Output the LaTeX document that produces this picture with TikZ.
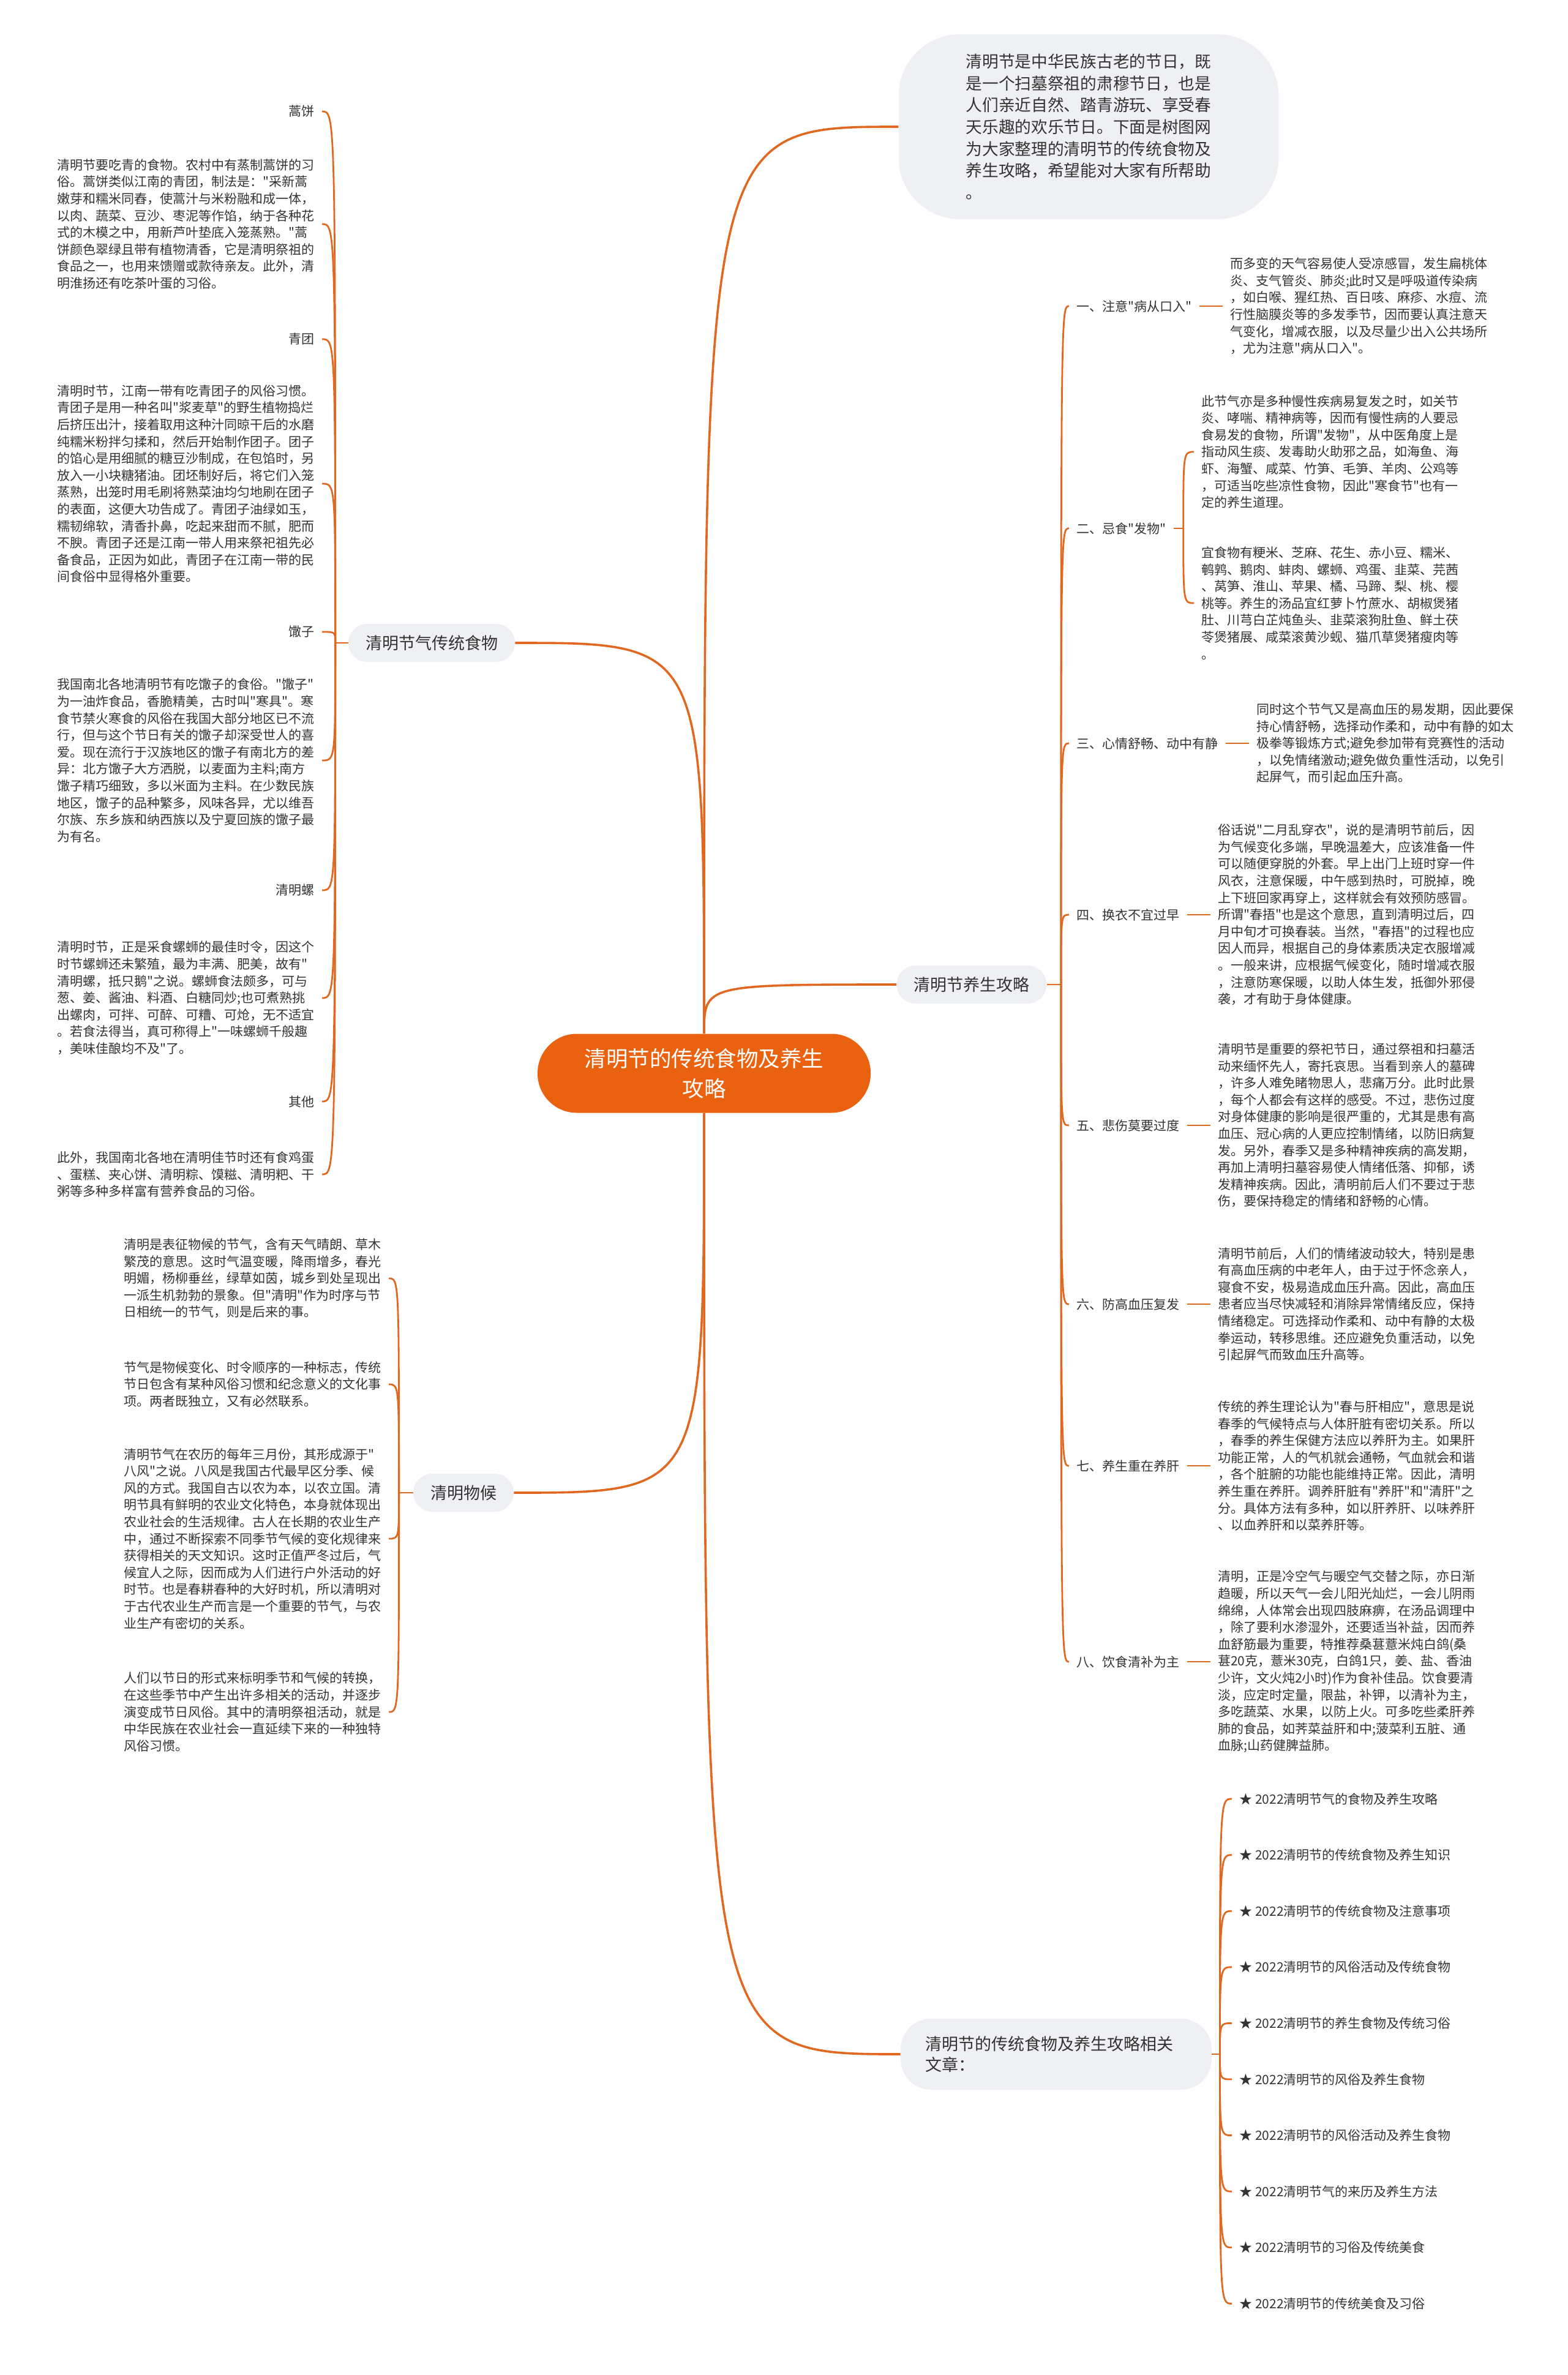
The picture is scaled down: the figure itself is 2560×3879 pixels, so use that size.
\documentclass[tikz,border=0pt]{standalone}
\usepackage{fontspec}
\newfontfamily\cjkfont{Noto Sans CJK SC}
\usetikzlibrary{positioning}
\definecolor{lineor}{RGB}{224,104,32}
\definecolor{hubor}{RGB}{234,98,16}
\definecolor{pillgray}{RGB}{238,240,243}
\definecolor{txt}{RGB}{51,51,51}
\tikzset{
  hub/.style   = {rounded corners=32pt, fill=hubor, text=white, align=center,
                  minimum width=272pt, minimum height=64.5pt,
                  font=\cjkfont\fontsize{17.75}{24.5}\selectfont},
  topic/.style = {rounded corners=15.5pt, fill=pillgray, text=txt,
                  minimum height=31pt, inner xsep=14pt,
                  font=\cjkfont\fontsize{13.5}{17}\selectfont},
  intro/.style = {topic, rounded corners=50pt, align=left,
                  inner xsep=55pt, inner ysep=16pt,
                  font=\cjkfont\fontsize{13.35}{17.8}\selectfont},
  lbl/.style   = {text=txt, inner xsep=6pt, inner ysep=2pt,
                  font=\cjkfont\fontsize{10.5}{13.8}\selectfont},
  para/.style  = {lbl, align=left},
  link/.style  = {draw=lineor, line width=1.4pt},
  main/.style  = {link, line width=1.8pt}
}

\begin{document}
\begin{tikzpicture}[x=0.5pt,y=-0.5pt,node distance=19pt]
  \useasboundingbox[fill=white] (0,0) rectangle (2560,3879);

  % centre and main topics
  \node[hub] (hub) at (1150,1753) {清明节的传统食物及养生\\攻略};
  \node[intro] (intro) at (1778,207) {清明节是中华民族古老的节日，既\\是一个扫墓祭祖的肃穆节日，也是\\人们亲近自然、踏青游玩、享受春\\天乐趣的欢乐节日。下面是树图网\\为大家整理的清明节的传统食物及\\养生攻略，希望能对大家有所帮助\\。};
  \node[topic] (hy) at (1587,1608) {清明节养生攻略};
  \node[topic] (fd) at (705,1050) {清明节气传统食物};
  \node[topic] (wh) at (757,2438) {清明物候};
  \node[topic, align=left, text width=214pt, inner xsep=20pt,
        rounded corners=25pt, minimum height=58pt] (rel) at (1725,3355)
        {清明节的传统食物及养生攻略相关\\文章：};

  \draw[main] (hub.north) .. controls (hub.north |- intro.west) .. (intro.west);
  \draw[main] (hub.north) .. controls (hub.north |- hy.west) .. (hy.west);
  \draw[main] (hub.north) .. controls (hub.north |- fd.east) .. (fd.east);
  \draw[main] (hub.south) .. controls (hub.south |- wh.east) .. (wh.east);
  \draw[main] (hub.south) .. controls (hub.south |- rel.west) .. (rel.west);

  % health tips
  \node[lbl, anchor=west] (l1) at (1746,500) {一、注意"病从口入"};
  \node[para, right=of l1] (p1) {而多变的天气容易使人受凉感冒，发生扁桃体\\炎、支气管炎、肺炎;此时又是呼吸道传染病\\，如白喉、猩红热、百日咳、麻疹、水痘、流\\行性脑膜炎等的多发季节，因而要认真注意天\\气变化，增减衣服，以及尽量少出入公共场所\\，尤为注意"病从口入"。};

  \node[lbl, anchor=west] (l2) at (1746,863) {二、忌食"发物"};
  \coordinate[right=8pt of l2] (j2);
  \node[para, anchor=west] (p2a) at (1950,738) {此节气亦是多种慢性疾病易复发之时，如关节\\炎、哮喘、精神病等，因而有慢性病的人要忌\\食易发的食物，所谓"发物"，从中医角度上是\\指动风生痰、发毒助火助邪之品，如海鱼、海\\虾、海蟹、咸菜、竹笋、毛笋、羊肉、公鸡等\\，可适当吃些凉性食物，因此"寒食节"也有一\\定的养生道理。};
  \node[para, anchor=west] (p2b) at (1950,985) {宜食物有粳米、芝麻、花生、赤小豆、糯米、\\鹌鹑、鹅肉、蚌肉、螺蛳、鸡蛋、韭菜、芫茜\\、莴笋、淮山、苹果、橘、马蹄、梨、桃、樱\\桃等。养生的汤品宜红萝卜竹蔗水、胡椒煲猪\\肚、川芎白芷炖鱼头、韭菜滚狗肚鱼、鲜土茯\\苓煲猪展、咸菜滚黄沙蚬、猫爪草煲猪瘦肉等\\。};

  \node[lbl, anchor=west] (l3) at (1746,1214) {三、心情舒畅、动中有静};
  \node[para, right=of l3] (p3) {同时这个节气又是高血压的易发期，因此要保\\持心情舒畅，选择动作柔和，动中有静的如太\\极拳等锻炼方式;避免参加带有竞赛性的活动\\，以免情绪激动;避免做负重性活动，以免引\\起屏气，而引起血压升高。};

  \node[lbl, anchor=west] (l4) at (1746,1494) {四、换衣不宜过早};
  \node[para, right=of l4] (p4) {俗话说"二月乱穿衣"，说的是清明节前后，因\\为气候变化多端，早晚温差大，应该准备一件\\可以随便穿脱的外套。早上出门上班时穿一件\\风衣，注意保暖，中午感到热时，可脱掉，晚\\上下班回家再穿上，这样就会有效预防感冒。\\所谓"春捂"也是这个意思，直到清明过后，四\\月中旬才可换春装。当然，"春捂"的过程也应\\因人而异，根据自己的身体素质决定衣服增减\\。一般来讲，应根据气候变化，随时增减衣服\\，注意防寒保暖，以助人体生发，抵御外邪侵\\袭，才有助于身体健康。};

  \node[lbl, anchor=west] (l5) at (1746,1838) {五、悲伤莫要过度};
  \node[para, right=of l5] (p5) {清明节是重要的祭祀节日，通过祭祖和扫墓活\\动来缅怀先人，寄托哀思。当看到亲人的墓碑\\，许多人难免睹物思人，悲痛万分。此时此景\\，每个人都会有这样的感受。不过，悲伤过度\\对身体健康的影响是很严重的，尤其是患有高\\血压、冠心病的人更应控制情绪，以防旧病复\\发。另外，春季又是多种精神疾病的高发期，\\再加上清明扫墓容易使人情绪低落、抑郁，诱\\发精神疾病。因此，清明前后人们不要过于悲\\伤，要保持稳定的情绪和舒畅的心情。};

  \node[lbl, anchor=west] (l6) at (1746,2130) {六、防高血压复发};
  \node[para, right=of l6] (p6) {清明节前后，人们的情绪波动较大，特别是患\\有高血压病的中老年人，由于过于怀念亲人，\\寝食不安，极易造成血压升高。因此，高血压\\患者应当尽快减轻和消除异常情绪反应，保持\\情绪稳定。可选择动作柔和、动中有静的太极\\拳运动，转移思维。还应避免负重活动，以免\\引起屏气而致血压升高等。};

  \node[lbl, anchor=west] (l7) at (1746,2394) {七、养生重在养肝};
  \node[para, right=of l7] (p7) {传统的养生理论认为"春与肝相应"，意思是说\\春季的气候特点与人体肝脏有密切关系。所以\\，春季的养生保健方法应以养肝为主。如果肝\\功能正常，人的气机就会通畅，气血就会和谐\\，各个脏腑的功能也能维持正常。因此，清明\\养生重在养肝。调养肝脏有"养肝"和"清肝"之\\分。具体方法有多种，如以肝养肝、以味养肝\\、以血养肝和以菜养肝等。};

  \node[lbl, anchor=west] (l8) at (1746,2714) {八、饮食清补为主};
  \node[para, right=of l8] (p8) {清明，正是冷空气与暖空气交替之际，亦日渐\\趋暖，所以天气一会儿阳光灿烂，一会儿阴雨\\绵绵，人体常会出现四肢麻痹，在汤品调理中\\，除了要利水渗湿外，还要适当补益，因而养\\血舒筋最为重要，特推荐桑葚薏米炖白鸽(桑\\葚20克，薏米30克，白鸽1只，姜、盐、香油\\少许，文火炖2小时)作为食补佳品。饮食要清\\淡，应定时定量，限盐，补钾，以清补为主，\\多吃蔬菜、水果，以防上火。可多吃些柔肝养\\肺的食品，如荠菜益肝和中;菠菜利五脏、通\\血脉;山药健脾益肺。};

  \coordinate (jy) at ([xshift=11.5pt]hy.east);
  \draw[link] (hy.east) -- (jy);
  \foreach \nm in {l1,l2,l3,l4,l5,l6,l7,l8}
    \draw[link] (jy) .. controls (jy |- \nm) .. (\nm.west);
  \foreach \nm in {1,3,4,5,6,7,8}
    \draw[link] (l\nm) -- (p\nm);
  \draw[link] (l2.east) -- (j2);
  \draw[link] (j2) .. controls (j2 |- p2a) .. (p2a.west);
  \draw[link] (j2) .. controls (j2 |- p2b) .. (p2b.west);

  % traditional food
  \node[lbl, anchor=east] (f1) at (526,182) {蒿饼};
  \node[para, anchor=east] (f2) at (526,366) {清明节要吃青的食物。农村中有蒸制蒿饼的习\\俗。蒿饼类似江南的青团，制法是："采新蒿\\嫩芽和糯米同舂，使蒿汁与米粉融和成一体，\\以肉、蔬菜、豆沙、枣泥等作馅，纳于各种花\\式的木模之中，用新芦叶垫底入笼蒸熟。"蒿\\饼颜色翠绿且带有植物清香，它是清明祭祖的\\食品之一，也用来馈赠或款待亲友。此外，清\\明淮扬还有吃茶叶蛋的习俗。};
  \node[lbl, anchor=east] (f3) at (526,554) {青团};
  \node[para, anchor=east] (f4) at (526,790) {清明时节，江南一带有吃青团子的风俗习惯。\\青团子是用一种名叫"浆麦草"的野生植物捣烂\\后挤压出汁，接着取用这种汁同晾干后的水磨\\纯糯米粉拌匀揉和，然后开始制作团子。团子\\的馅心是用细腻的糖豆沙制成，在包馅时，另\\放入一小块糖猪油。团坯制好后，将它们入笼\\蒸熟，出笼时用毛刷将熟菜油均匀地刷在团子\\的表面，这便大功告成了。青团子油绿如玉，\\糯韧绵软，清香扑鼻，吃起来甜而不腻，肥而\\不腴。青团子还是江南一带人用来祭祀祖先必\\备食品，正因为如此，青团子在江南一带的民\\间食俗中显得格外重要。};
  \node[lbl, anchor=east] (f5) at (526,1032) {馓子};
  \node[para, anchor=east] (f6) at (526,1242) {我国南北各地清明节有吃馓子的食俗。"馓子"\\为一油炸食品，香脆精美，古时叫"寒具"。寒\\食节禁火寒食的风俗在我国大部分地区已不流\\行，但与这个节日有关的馓子却深受世人的喜\\爱。现在流行于汉族地区的馓子有南北方的差\\异：北方馓子大方洒脱，以麦面为主料;南方\\馓子精巧细致，多以米面为主料。在少数民族\\地区，馓子的品种繁多，风味各异，尤以维吾\\尔族、东乡族和纳西族以及宁夏回族的馓子最\\为有名。};
  \node[lbl, anchor=east] (f7) at (526,1454) {清明螺};
  \node[para, anchor=east] (f8) at (526,1630) {清明时节，正是采食螺蛳的最佳时令，因这个\\时节螺蛳还未繁殖，最为丰满、肥美，故有"\\清明螺，抵只鹅"之说。螺蛳食法颇多，可与\\葱、姜、酱油、料酒、白糖同炒;也可煮熟挑\\出螺肉，可拌、可醉、可糟、可炝，无不适宜\\。若食法得当，真可称得上"一味螺蛳千般趣\\，美味佳酿均不及"了。};
  \node[lbl, anchor=east] (f9) at (526,1799) {其他};
  \node[para, anchor=east] (f10) at (526,1918) {此外，我国南北各地在清明佳节时还有食鸡蛋\\、蛋糕、夹心饼、清明粽、馍糍、清明粑、干\\粥等多种多样富有营养食品的习俗。};

  \coordinate (jf) at ([xshift=-10.5pt]fd.west);
  \draw[link] (fd.west) -- (jf);
  \foreach \nm in {f1,f2,f3,f4,f5,f6,f7,f8,f9,f10}
    \draw[link] (jf) .. controls (jf |- \nm) .. (\nm.east);

  % phenology
  \node[para, anchor=east] (w1) at (635,2088) {清明是表征物候的节气，含有天气晴朗、草木\\繁茂的意思。这时气温变暖，降雨增多，春光\\明媚，杨柳垂丝，绿草如茵，城乡到处呈现出\\一派生机勃勃的景象。但"清明"作为时序与节\\日相统一的节气，则是后来的事。};
  \node[para, anchor=east] (w2) at (635,2261) {节气是物候变化、时令顺序的一种标志，传统\\节日包含有某种风俗习惯和纪念意义的文化事\\项。两者既独立，又有必然联系。};
  \node[para, anchor=east] (w3) at (635,2513) {清明节气在农历的每年三月份，其形成源于"\\八风"之说。八风是我国古代最早区分季、候\\风的方式。我国自古以农为本，以农立国。清\\明节具有鲜明的农业文化特色，本身就体现出\\农业社会的生活规律。古人在长期的农业生产\\中，通过不断探索不同季节气候的变化规律来\\获得相关的天文知识。这时正值严冬过后，气\\候宜人之际，因而成为人们进行户外活动的好\\时节。也是春耕春种的大好时机，所以清明对\\于古代农业生产而言是一个重要的节气，与农\\业生产有密切的关系。};
  \node[para, anchor=east] (w4) at (635,2796) {人们以节日的形式来标明季节和气候的转换，\\在这些季节中产生出许多相关的活动，并逐步\\演变成节日风俗。其中的清明祭祖活动，就是\\中华民族在农业社会一直延续下来的一种独特\\风俗习惯。};

  \coordinate (jw) at ([xshift=-11.5pt]wh.west);
  \draw[link] (wh.west) -- (jw);
  \foreach \nm in {w1,w2,w3,w4}
    \draw[link] (jw) .. controls (jw |- \nm) .. (\nm.east);

  % related articles
  \foreach \t [count=\i from 0] in {清明节气的食物及养生攻略,清明节的传统食物及养生知识,
      清明节的传统食物及注意事项,清明节的风俗活动及传统食物,清明节的养生食物及传统习俗,
      清明节的风俗及养生食物,清明节的风俗活动及养生食物,清明节气的来历及养生方法,
      清明节的习俗及传统美食,清明节的传统美食及习俗}
    \node[lbl, anchor=west] (r\i) at (2012,{2938+91.6*\i}) {★ 2022\t};

  \coordinate (jr) at ([xshift=6.5pt]rel.east);
  \draw[link] (rel.east) -- (jr);
  \foreach \i in {0,...,9}
    \draw[link] (jr) .. controls (jr |- r\i) .. (r\i.west);
\end{tikzpicture}
\end{document}
